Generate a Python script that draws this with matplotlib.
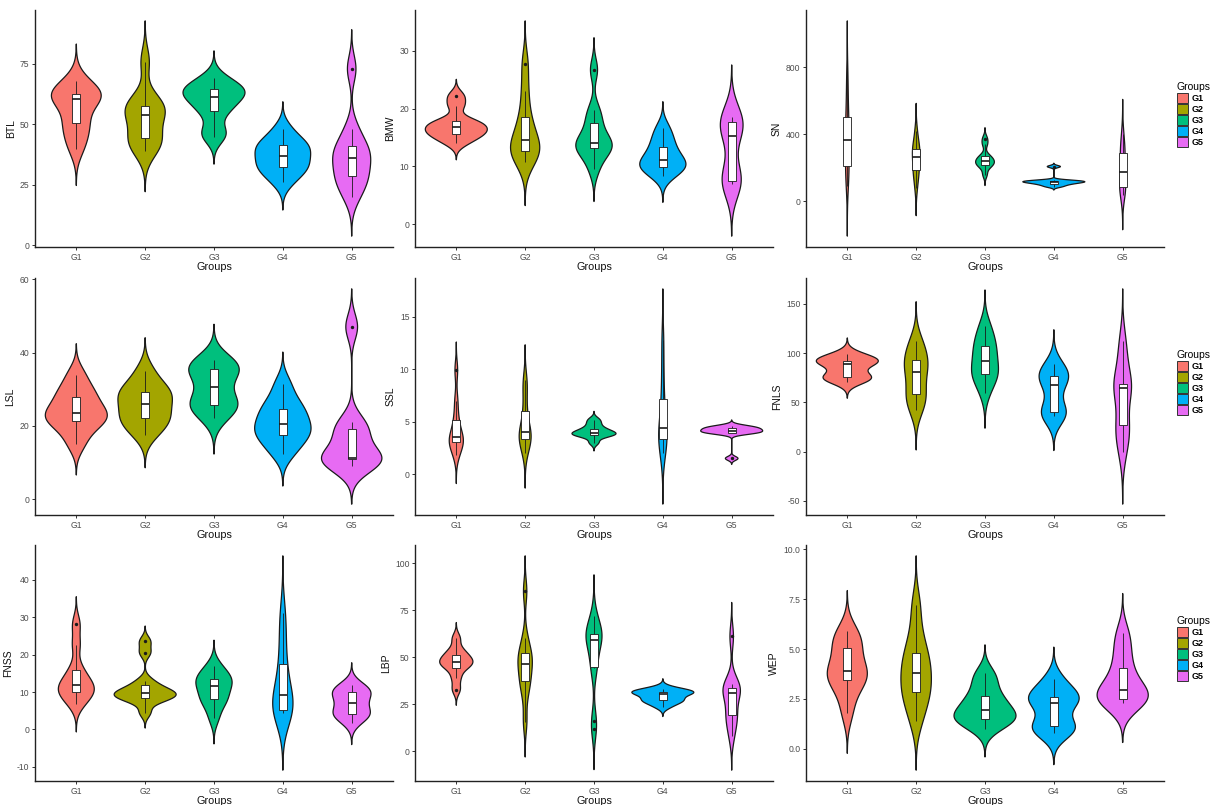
import numpy as np
import matplotlib
matplotlib.use("Agg")
import matplotlib.pyplot as plt
from matplotlib.patches import Patch, Rectangle
from matplotlib.ticker import MultipleLocator, FormatStrFormatter

plt.rcParams["font.family"] = ["Liberation Sans", "DejaVu Sans"]

GROUPS = ["G1", "G2", "G3", "G4", "G5"]
COLORS = ["#F8766D", "#A3A500", "#00BF7D", "#00B0F6", "#E76BF3"]

# raw observations per group (G1..G5) for each trait
BTL = [
    [40, 45, 50, 52, 60, 61, 61, 63, 64, 68],
    [39, 42, 44, 45, 53, 55, 56, 58, 60, 76],
    [45, 47, 55, 57, 61, 62, 63, 65, 66, 69],
    [26, 30, 32, 33, 36, 38, 40, 42, 43, 48],
    [20, 25, 28, 30, 35, 37, 39, 42, 48, 73],
]
BMW = [
    [14, 15, 15.5, 16, 16.5, 17, 17.5, 18, 20.5, 22.2],
    [10.7, 12, 12.5, 13, 14, 15, 17, 19, 23, 27.7],
    [9.5, 12, 13, 13.5, 14, 14.2, 16, 18, 19.7, 26.7],
    [8.3, 9.5, 9.8, 10, 11, 11.4, 12.5, 13.7, 15, 16.7],
    [6.9, 7.2, 7.5, 9, 15.2, 16.5, 17.6, 18, 18.6],
]
SN = [
    [90, 120, 150, 180, 200, 212, 260, 300, 330, 355,
     377, 400, 430, 460, 500, 525, 580, 650, 720, 780],
    [80, 150, 180, 200, 250, 280, 300, 320, 350, 420],
    [160, 205, 218, 225, 240, 246, 260, 275, 340, 375],
    [88, 98, 105, 110, 114, 117, 120, 123, 126, 208],
    [40, 70, 85, 100, 150, 200, 260, 300, 320, 400],
]
LSL = [
    [15, 19, 21, 22, 23, 24.2, 26, 28.5, 30, 34],
    [17.6, 20, 22, 22.5, 25, 27, 28.5, 29.5, 31, 35],
    [22, 25, 25.6, 26, 29, 32.4, 35, 35.8, 36.5, 38],
    [12.3, 15, 17.5, 18, 19.5, 21.5, 23, 25, 27, 31.4],
    [9, 11, 11, 11, 11.3, 17, 19, 21, 47],
]
SSL = [
    [1.8, 2.5, 3.0, 3.2, 3.4, 3.6, 4.5, 5.4, 7.0, 9.9],
    [2.0, 3.0, 3.3, 3.5, 3.8, 4.2, 5.0, 6.3, 8.0, 9.0],
    [3.0, 3.6, 3.7, 3.8, 3.9, 4.0, 4.2, 4.4, 4.8, 5.2],
    [2.0, 2.8, 3.3, 3.6, 4.2, 4.6, 6.0, 7.6, 10, 12.8],
    [1.5, 3.9, 3.9, 4.0, 4.1, 4.2, 4.3, 4.4, 4.5, 4.6],
]
FNLS = [
    [71, 74, 76, 77, 86, 91, 91.5, 92, 95, 98.7],
    [42, 50, 58, 62, 78, 84, 90, 94, 105, 112],
    [60, 74, 78, 79.5, 88, 96, 104, 108, 118, 128],
    [36, 38, 40, 42, 62, 73, 75, 77, 82, 89],
    [0, 15, 26, 30, 63, 65.5, 66, 70, 95, 112],
]
FNSS = [
    [6.7, 8.5, 10, 10.3, 11.5, 12.5, 14, 16.5, 22.6, 28.1],
    [4.5, 7.5, 8.2, 8.6, 9.2, 9.6, 10, 10.5, 11.5, 13, 20.5, 23.5],
    [3, 6.5, 8, 8.8, 11, 12, 13, 13.8, 15, 17],
    [4.5, 5, 5.2, 5.5, 8, 10.5, 14, 18.5, 25, 31],
    [1.8, 4, 4.1, 4.3, 6.8, 7.6, 9.5, 10.1, 10.6, 12],
]
LBP = [
    [32.8, 39, 44, 45.5, 47, 48, 49.5, 51.5, 54, 60],
    [15.8, 30, 37, 38.5, 45, 48, 50, 53, 60, 85],
    [12, 16, 44, 46, 56, 59, 61, 62, 63, 65, 72],
    [23.7, 26, 27, 27.5, 29.5, 31, 31.3, 31.6, 32, 33.3],
    [8, 15, 19, 21, 30, 32, 33, 34, 36, 61],
]
WEP = [
    [1.8, 2.8, 3.4, 3.6, 3.8, 4.0, 4.6, 5.2, 5.5, 5.9],
    [1.4, 2.2, 2.8, 3.0, 3.6, 4.0, 4.5, 4.9, 5.8, 7.2],
    [1.0, 1.4, 1.5, 1.55, 1.8, 2.1, 2.4, 2.7, 3.3, 3.8],
    [0.8, 1.0, 1.1, 1.2, 2.2, 2.4, 2.5, 2.6, 3.0, 3.5],
    [2.3, 2.4, 2.45, 2.6, 2.8, 3.1, 3.6, 4.2, 5.0, 5.8],
]

PANELS = [
    ("BTL", BTL, 25, "%d"), ("BMW", BMW, 10, "%d"), ("SN", SN, 400, "%d"),
    ("LSL", LSL, 20, "%d"), ("SSL", SSL, 5, "%d"), ("FNLS", FNLS, 50, "%d"),
    ("FNSS", FNSS, 10, "%d"), ("LBP", LBP, 25, "%d"), ("WEP", WEP, 2.5, "%.1f"),
]

W, H = 1213, 805
COL_LEFT = [35, 415, 806]
COL_W = 358
ROWS = [(10, 247), (278, 515), (545, 781)]
TICK_GREY = "#4D4D4D"
INK = "#1a1a1a"


def nrd0(x):
    x = np.asarray(x, float)
    q1, q3 = np.quantile(x, [0.25, 0.75])
    lo = min(np.std(x, ddof=1), (q3 - q1) / 1.34)
    if lo <= 0:
        lo = np.std(x, ddof=1) or 1.0
    return 0.9 * lo * len(x) ** -0.2


def violin_density(x):
    x = np.asarray(x, float)
    bw = nrd0(x)
    grid = np.linspace(x.min() - 3 * bw, x.max() + 3 * bw, 512)
    z = (grid[:, None] - x[None, :]) / bw
    dens = np.exp(-0.5 * z ** 2).sum(axis=1) / (len(x) * bw * np.sqrt(2 * np.pi))
    return grid, dens


def box_stats(x):
    x = np.sort(np.asarray(x, float))
    q1, med, q3 = np.quantile(x, [0.25, 0.5, 0.75])
    iqr = q3 - q1
    keep = (x >= q1 - 1.5 * iqr) & (x <= q3 + 1.5 * iqr)
    return q1, med, q3, x[keep].min(), x[keep].max(), x[~keep]


def draw_panel(ax, name, data, step, fmt):
    curves = [violin_density(g) for g in data]
    peak = max(d.max() for _, d in curves)
    for i, ((grid, dens), color) in enumerate(zip(curves, COLORS)):
        pos = i + 1
        hw = 0.45 * dens / peak
        ax.fill(np.concatenate([pos - hw, (pos + hw)[::-1]]),
                np.concatenate([grid, grid[::-1]]),
                facecolor=color, edgecolor=INK, linewidth=0.9, zorder=2)

        q1, med, q3, lo, hi, outl = box_stats(data[i])
        bw_box = 0.12
        ax.vlines(pos, lo, q1, color=INK, linewidth=0.6, zorder=3)
        ax.vlines(pos, q3, hi, color=INK, linewidth=0.6, zorder=3)
        ax.add_patch(Rectangle((pos - bw_box / 2, q1), bw_box, q3 - q1,
                               facecolor="white", edgecolor=INK,
                               linewidth=0.6, zorder=4))
        ax.hlines(med, pos - bw_box / 2, pos + bw_box / 2, color=INK,
                  linewidth=1.2, zorder=5)
        if len(outl):
            ax.scatter(np.full(len(outl), pos), outl, s=6, color=INK,
                       zorder=6, linewidths=0)

    ymin = min(g.min() for g, _ in curves)
    ymax = max(g.max() for g, _ in curves)
    pad = 0.05 * (ymax - ymin)
    ax.set_ylim(ymin - pad, ymax + pad)
    ax.set_xlim(0.4, 5.6)
    ax.set_xticks(range(1, 6))
    ax.set_xticklabels(GROUPS)
    ax.yaxis.set_major_locator(MultipleLocator(step))
    ax.yaxis.set_major_formatter(FormatStrFormatter(fmt))

    for side in ("top", "right"):
        ax.spines[side].set_visible(False)
    for side in ("left", "bottom"):
        ax.spines[side].set_color("#222222")
        ax.spines[side].set_linewidth(1.0)
    ax.tick_params(axis="both", length=2.5, width=0.7, color="#333333",
                   labelsize=6.2, labelcolor=TICK_GREY, pad=1.5)
    ax.set_xlabel("Groups", fontsize=7.8, labelpad=0.5, color="#111111")
    ax.set_ylabel(name, fontsize=7.5, labelpad=3, color="#111111")


fig = plt.figure(figsize=(W / 100, H / 100), dpi=100)
fig.patch.set_facecolor("white")

for k, (name, data, step, fmt) in enumerate(PANELS):
    r, c = divmod(k, 3)
    top, bottom = ROWS[r]
    ax = fig.add_axes([COL_LEFT[c] / W, 1 - bottom / H, COL_W / W, (bottom - top) / H])
    draw_panel(ax, name, data, step, fmt)
    if c == 2:
        handles = [Patch(facecolor=col, edgecolor="#333333", linewidth=0.7, label=g)
                   for g, col in zip(GROUPS, COLORS)]
        ax.legend(handles=handles, title="Groups", loc="center left",
                  bbox_to_anchor=(1.035, 0.56), frameon=False,
                  prop={"size": 6.5, "weight": "bold"}, title_fontsize=7.5,
                  handlelength=1.3, handleheight=1.3, labelspacing=0.12,
                  handletextpad=0.4, borderaxespad=0, borderpad=0,
                  alignment="left")

fig.savefig("out.png", dpi=100, facecolor="white")
